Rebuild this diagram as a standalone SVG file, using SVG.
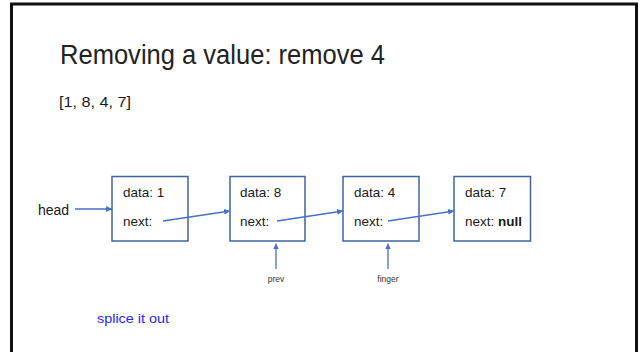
<svg xmlns="http://www.w3.org/2000/svg" width="642" height="352" viewBox="0 0 642 352">
  <style>
    .frame { fill: #ffffff; stroke: #111111; stroke-width: 3; }
    .node rect { fill: #ffffff; stroke: #3f64a3; stroke-width: 1.5; }
    .node text { font-family: "Liberation Sans", Arial, sans-serif; font-size: 13.5px; fill: #1a1a1a; }
    .link { stroke: #4472c4; stroke-width: 1.3; fill: none; marker-end: url(#arrow); }
    .title { font-family: "Liberation Sans", Arial, sans-serif; font-size: 27px; fill: #222222; }
    .body { font-family: "Liberation Sans", Arial, sans-serif; font-size: 15px; fill: #1a1a1a; }
    .label { font-family: "Liberation Sans", Arial, sans-serif; fill: #1a1a1a; }
    .pointer { font-family: "Liberation Sans", Arial, sans-serif; font-size: 8.5px; fill: #333333; text-anchor: middle; }
    .note { font-family: "Liberation Sans", Arial, sans-serif; font-size: 13.5px; fill: #1f1fff; }
  </style>
  <defs>
    <marker id="arrow" viewBox="0 0 10 10" refX="10" refY="5" markerWidth="4.5" markerHeight="4.5" orient="auto" markerUnits="strokeWidth">
      <path d="M0,0 L10,5 L0,10 z" fill="#4472c4"/>
    </marker>
  </defs>

  <!-- slide frame, open at the bottom edge -->
  <rect class="frame" x="11.5" y="4" width="625" height="360"/>

  <text class="title" x="60" y="64" textLength="325" lengthAdjust="spacingAndGlyphs">Removing a value: remove 4</text>
  <text class="body" x="59" y="107" textLength="72" lengthAdjust="spacingAndGlyphs">[1, 8, 4, 7]</text>

  <g id="head">
    <text class="label" x="38" y="215" font-size="14">head</text>
  </g>

  <g id="node1" class="node">
    <rect x="112" y="176.5" width="76" height="64.5"/>
    <text x="123" y="197">data: 1</text>
    <text x="123" y="226">next:</text>
  </g>
  <g id="node8" class="node">
    <rect x="230" y="176.5" width="75" height="64.5"/>
    <text x="240" y="197">data: 8</text>
    <text x="240" y="226">next:</text>
  </g>
  <g id="node4" class="node">
    <rect x="343" y="176.5" width="76" height="64.5"/>
    <text x="354" y="197">data: 4</text>
    <text x="354" y="226">next:</text>
  </g>
  <g id="node7" class="node">
    <rect x="454" y="176.5" width="76.5" height="64.5"/>
    <text x="465" y="197">data: 7</text>
    <text x="465" y="226">next: <tspan font-weight="bold">null</tspan></text>
  </g>

  <g id="prev">
    <text class="pointer" x="276" y="282">prev</text>
  </g>
  <g id="finger">
    <text class="pointer" x="388" y="282">finger</text>
  </g>

  <g id="connectors">
    <line class="link" x1="75" y1="209" x2="112" y2="209"/>
    <line class="link" x1="163" y1="221" x2="230" y2="211"/>
    <line class="link" x1="277" y1="221" x2="343" y2="211"/>
    <line class="link" x1="388" y1="221" x2="454" y2="211"/>
    <line class="link" x1="276" y1="269" x2="276" y2="243.5"/>
    <line class="link" x1="388" y1="269" x2="388" y2="243.5"/>
  </g>

  <text class="note" x="97" y="323" textLength="72" lengthAdjust="spacingAndGlyphs">splice it out</text>
</svg>
